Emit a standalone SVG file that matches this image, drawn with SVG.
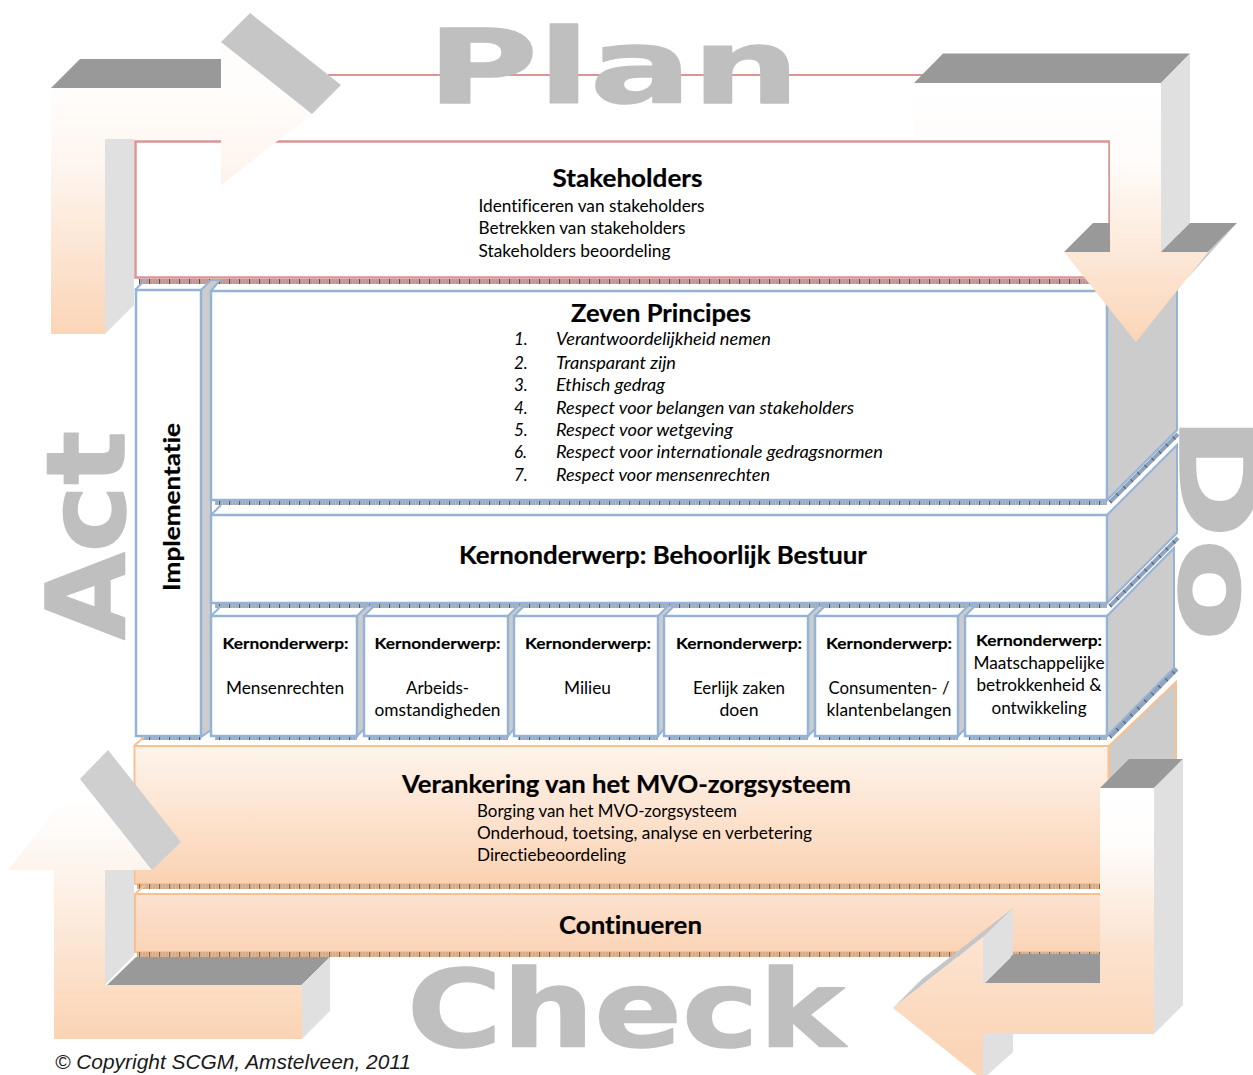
<svg xmlns="http://www.w3.org/2000/svg" width="1253" height="1075" viewBox="0 0 1253 1075">
<style>
text{font-family:"Lato","Carlito","Liberation Sans",sans-serif;fill:#000;font-variant-ligatures:none}
.big{font-family:"DejaVu Sans",Verdana,sans-serif;font-weight:700;fill:#bfbfbf;stroke:#bfbfbf;stroke-width:1.5;stroke-linejoin:round}
.h{font-size:24px;font-weight:700;text-anchor:middle;stroke:#000;stroke-width:.2}
.b{font-size:17px}
.i{font-size:17px;font-style:italic}
.k{font-size:16px;font-weight:700;text-anchor:middle;stroke:#000;stroke-width:.15}
.v{font-size:17px;text-anchor:middle}
.r{fill:#fff;stroke:#d99694;stroke-width:2.5}
.bl{fill:#fff;stroke:#95b3d7;stroke-width:2.5}
.o{stroke:#fac090;stroke-width:2}
.s{fill:#cccccc;stroke:#95b3d7;stroke-width:2;stroke-linejoin:miter}
.so{fill:#cccccc;stroke:#fac090;stroke-width:2}
.sl{fill:none;stroke:#95b3d7;stroke-width:2}
.top{fill:#999999}
.side{fill:#e0e0e0}
.hd{fill:#c6c6c6}
.dg{fill:none;stroke:#8fa3bd;stroke-width:4}
.dgt{fill:none;stroke:#4a5a70;stroke-width:4;stroke-dasharray:1 9}
</style>
<defs>
<pattern id="hb" width="10" height="5" patternUnits="userSpaceOnUse"><rect width="10" height="5" fill="#aebbcd"/><path d="M0 0l2 5M2 0l-2 5M3 0l2 5M5 0l-2 5M6 0l2 5M8 0l-2 5" stroke="#8b96a8" stroke-width=".5"/><path d="M9.500 0v5" stroke="#4a5a70" stroke-width="1"/></pattern>
<pattern id="hr" width="10" height="5" patternUnits="userSpaceOnUse"><rect width="10" height="5" fill="#cfa4a4"/><path d="M0 0l2 5M2 0l-2 5M3 0l2 5M5 0l-2 5M6 0l2 5M8 0l-2 5" stroke="#a08888" stroke-width=".5"/><path d="M9.500 0v5" stroke="#6c4646" stroke-width="1"/></pattern>
<pattern id="ho" width="10" height="5" patternUnits="userSpaceOnUse"><rect width="10" height="5" fill="#e4bc9c"/><path d="M0 0l2 5M2 0l-2 5M3 0l2 5M5 0l-2 5M6 0l2 5M8 0l-2 5" stroke="#bb9678" stroke-width=".5"/><path d="M9.500 0v5" stroke="#9a5c28" stroke-width="1"/></pattern>
<linearGradient id="g1" x1="0" y1="88" x2="0" y2="334" gradientUnits="userSpaceOnUse"><stop offset="0" stop-color="#fffdfb"/><stop offset=".3" stop-color="#fef6f0"/><stop offset="1" stop-color="#fbd5b7"/></linearGradient>
<linearGradient id="g2" x1="0" y1="83" x2="0" y2="342" gradientUnits="userSpaceOnUse"><stop offset="0" stop-color="#ffffff"/><stop offset=".3" stop-color="#fffcfa"/><stop offset="1" stop-color="#fbd5b7"/></linearGradient>
<linearGradient id="g3" x1="0" y1="788" x2="0" y2="1050" gradientUnits="userSpaceOnUse"><stop offset="0" stop-color="#ffffff"/><stop offset=".2" stop-color="#fffdfb"/><stop offset=".6" stop-color="#fce3d0"/><stop offset="1" stop-color="#fbd5b7"/></linearGradient>
<linearGradient id="g4" x1="0" y1="800" x2="0" y2="1039" gradientUnits="userSpaceOnUse"><stop offset="0" stop-color="#ffffff"/><stop offset=".3" stop-color="#fdf4ec"/><stop offset="1" stop-color="#fbd3b3"/></linearGradient>
<linearGradient id="gv" x1="0" y1="0" x2="0" y2="1"><stop offset="0" stop-color="#fef4ec"/><stop offset="1" stop-color="#fbd2b2"/></linearGradient>
<linearGradient id="gc" x1="0" y1="0" x2="0" y2="1"><stop offset="0" stop-color="#fce1cf"/><stop offset="1" stop-color="#fbd4b6"/></linearGradient>
</defs>

<g id="stakeholders">
<path d="M328 75H925" fill="none" stroke="#d99694" stroke-width="2"/>
<rect class="r" x="135.500" y="141.500" width="974" height="136"/>
<rect x="139" y="279" width="970" height="5" fill="url(#hr)"/>
<text class="h" x="627.500" y="187" textLength="150" lengthAdjust="spacingAndGlyphs">Stakeholders</text>
<text class="b" x="478.500" y="212" textLength="226" lengthAdjust="spacingAndGlyphs">Identificeren van stakeholders</text>
<text class="b" x="478.500" y="234" textLength="207" lengthAdjust="spacingAndGlyphs">Betrekken van stakeholders</text>
<text class="b" x="478.500" y="257" textLength="192" lengthAdjust="spacingAndGlyphs">Stakeholders beoordeling</text>
</g>

<g id="implementatie">
<path class="s" d="M201 290L211 280H220L211 291V730L201 737Z"/>
<path class="sl" d="M135 290L146 279"/>
<rect class="bl" x="136" y="290" width="65" height="446"/>
<rect x="141" y="737" width="60" height="3" fill="url(#hb)"/>
<text font-size="22" font-weight="700" stroke="#000" stroke-width=".2" text-anchor="middle" transform="translate(180,507) rotate(-90)" textLength="168" lengthAdjust="spacingAndGlyphs">Implementatie</text>
</g>

<g id="zeven-principes">
<path class="s" d="M1107 291L1177 220V430L1107 500Z"/>
<rect class="bl" x="211" y="291" width="896" height="209"/>
<rect x="215" y="501" width="892" height="4" fill="url(#hb)"/>
<path class="dg" d="M1110 502L1178 434"/>
<path class="dgt" d="M1110 502L1178 434"/>
<text class="h" x="661" y="322" textLength="180" lengthAdjust="spacingAndGlyphs">Zeven Principes</text>
<text class="i" x="514" y="345">1.</text><text class="i" x="556" y="345" textLength="215" lengthAdjust="spacingAndGlyphs">Verantwoordelijkheid nemen</text>
<text class="i" x="514" y="369">2.</text><text class="i" x="556" y="369" textLength="120" lengthAdjust="spacingAndGlyphs">Transparant zijn</text>
<text class="i" x="514" y="391">3.</text><text class="i" x="556" y="391" textLength="109" lengthAdjust="spacingAndGlyphs">Ethisch gedrag</text>
<text class="i" x="514" y="414">4.</text><text class="i" x="556" y="414" textLength="298" lengthAdjust="spacingAndGlyphs">Respect voor belangen van stakeholders</text>
<text class="i" x="514" y="436">5.</text><text class="i" x="556" y="436" textLength="177" lengthAdjust="spacingAndGlyphs">Respect voor wetgeving</text>
<text class="i" x="514" y="458">6.</text><text class="i" x="556" y="458" textLength="327" lengthAdjust="spacingAndGlyphs">Respect voor internationale gedragsnormen</text>
<text class="i" x="514" y="481">7.</text><text class="i" x="556" y="481" textLength="214" lengthAdjust="spacingAndGlyphs">Respect voor mensenrechten</text>
</g>

<g id="behoorlijk-bestuur">
<path class="sl" d="M211 515L221 505"/>
<path class="s" d="M1107 515L1177 445V533L1107 603Z"/>
<rect class="bl" x="211" y="515" width="896" height="88"/>
<rect x="215" y="604" width="892" height="4" fill="url(#hb)"/>
<path class="dg" d="M1110 606L1178 538"/>
<path class="dgt" d="M1110 606L1178 538"/>
<text class="h" x="663" y="564" textLength="408" lengthAdjust="spacingAndGlyphs">Kernonderwerp: Behoorlijk Bestuur</text>
</g>

<g id="kern-mensenrechten">
<path class="sl" d="M211 616L221 606"/>
<path class="s" d="M357 616L367 606H374L364 616V729L357 736Z"/>
<rect class="bl" x="211" y="616" width="146" height="120"/>
<rect x="215" y="737" width="142" height="3" fill="url(#hb)"/>
<text class="k" x="285.500" y="649" textLength="126" lengthAdjust="spacingAndGlyphs">Kernonderwerp:</text>
<text class="v" x="285" y="694" textLength="118" lengthAdjust="spacingAndGlyphs">Mensenrechten</text>
</g>
<g id="kern-arbeid">
<path class="s" d="M508 616L518 606H524L514 616V729L508 736Z"/>
<rect class="bl" x="364" y="616" width="144" height="120"/>
<rect x="368" y="737" width="140" height="3" fill="url(#hb)"/>
<text class="k" x="437.500" y="649" textLength="126" lengthAdjust="spacingAndGlyphs">Kernonderwerp:</text>
<text class="v" x="437.500" y="694" textLength="63" lengthAdjust="spacingAndGlyphs">Arbeids-</text>
<text class="v" x="437.500" y="716" textLength="126" lengthAdjust="spacingAndGlyphs">omstandigheden</text>
</g>
<g id="kern-milieu">
<path class="s" d="M658 616L668 606H674L664 616V729L658 736Z"/>
<rect class="bl" x="514" y="616" width="144" height="120"/>
<rect x="518" y="737" width="140" height="3" fill="url(#hb)"/>
<text class="k" x="588" y="649" textLength="126" lengthAdjust="spacingAndGlyphs">Kernonderwerp:</text>
<text class="v" x="587.500" y="694" textLength="47" lengthAdjust="spacingAndGlyphs">Milieu</text>
</g>
<g id="kern-eerlijk">
<path class="s" d="M808 616L818 606H825L815 616V729L808 736Z"/>
<rect class="bl" x="664" y="616" width="144" height="120"/>
<rect x="668" y="737" width="140" height="3" fill="url(#hb)"/>
<text class="k" x="739" y="649" textLength="126" lengthAdjust="spacingAndGlyphs">Kernonderwerp:</text>
<text class="v" x="739" y="694" textLength="92" lengthAdjust="spacingAndGlyphs">Eerlijk zaken</text>
<text class="v" x="739" y="716" textLength="39" lengthAdjust="spacingAndGlyphs">doen</text>
</g>
<g id="kern-consumenten">
<path class="s" d="M958 616L968 606H975L965 616V729L958 736Z"/>
<rect class="bl" x="815" y="616" width="143" height="120"/>
<rect x="819" y="737" width="139" height="3" fill="url(#hb)"/>
<text class="k" x="889" y="649" textLength="126" lengthAdjust="spacingAndGlyphs">Kernonderwerp:</text>
<text class="v" x="889" y="694" textLength="121" lengthAdjust="spacingAndGlyphs">Consumenten- /</text>
<text class="v" x="889" y="716" textLength="125" lengthAdjust="spacingAndGlyphs">klantenbelangen</text>
</g>
<g id="kern-maatschappij">
<path class="s" d="M1107 616L1174 548V668L1107 736Z"/>
<rect class="bl" x="965" y="616" width="142" height="120"/>
<rect x="969" y="737" width="138" height="3" fill="url(#hb)"/>
<path class="dg" d="M1110 737L1177 669"/>
<path class="dgt" d="M1110 737L1177 669"/>
<text class="k" x="1039" y="646" textLength="126" lengthAdjust="spacingAndGlyphs">Kernonderwerp:</text>
<text class="v" x="1039" y="669" textLength="131" lengthAdjust="spacingAndGlyphs">Maatschappelijke</text>
<text class="v" x="1039" y="691" textLength="125" lengthAdjust="spacingAndGlyphs">betrokkenheid &amp;</text>
<text class="v" x="1039" y="714" textLength="95" lengthAdjust="spacingAndGlyphs">ontwikkeling</text>
</g>

<g id="verankering">
<path class="so" d="M1109 746L1176 682V880L1109 884Z"/>
<path d="M134 746L144 737" fill="none" stroke="#fac090" stroke-width="2"/>
<rect class="o" x="134.500" y="746" width="974" height="138" fill="url(#gv)"/>
<rect x="137" y="884" width="965" height="5" fill="url(#ho)"/>
<text class="h" x="626.500" y="793" textLength="449" lengthAdjust="spacingAndGlyphs">Verankering van het MVO-zorgsysteem</text>
<text class="b" x="477" y="817" textLength="260" lengthAdjust="spacingAndGlyphs">Borging van het MVO-zorgsysteem</text>
<text class="b" x="477" y="839" textLength="335" lengthAdjust="spacingAndGlyphs">Onderhoud, toetsing, analyse en verbetering</text>
<text class="b" x="477" y="861" textLength="149" lengthAdjust="spacingAndGlyphs">Directiebeoordeling</text>
</g>

<g id="continueren">
<path d="M135 894L145 885" fill="none" stroke="#fac090" stroke-width="2"/>
<rect class="o" x="135" y="894" width="970" height="58" fill="url(#gc)"/>
<rect x="137" y="952" width="965" height="5" fill="url(#ho)"/>
<text class="h" x="630.500" y="934" textLength="143" lengthAdjust="spacingAndGlyphs">Continueren</text>
</g>

<g id="labels">
<text class="big" font-size="103" transform="translate(427,103) scale(1.47,1)">Plan</text>
<text class="big" font-size="107" transform="translate(407,1046) scale(1.21,1)">Check</text>
<text class="big" font-size="108" transform="translate(124,640) rotate(-90) scale(1.05,1)">Act</text>
<text class="big" font-size="108" transform="translate(1180,415) rotate(90) scale(1.38,1)">Do</text>
</g>

<g id="connectors">
<g id="arrow-plan">
<path class="top" d="M51 88L80 59H221V88Z"/>
<path class="side" d="M105 139H134V305L105 334Z"/>
<path fill="url(#g1)" d="M51 88H221V42L312 114L221 185V139H105V334H51Z"/>
<path class="hd" d="M221 42L250 13L341 85L312 114Z"/>
</g>
<g id="arrow-do">
<path class="top" d="M914 83L943 53.500H1190L1161 83Z"/>
<path class="side" d="M1161 83L1190 53.500V223L1161 252Z"/>
<path class="top" d="M1064 252L1093 223H1110V252Z"/>
<path class="top" d="M1161 252L1190 223H1237L1208 252Z"/>
<path class="hd" d="M1208 252L1237 223L1147 323L1136 342Z"/>
<path fill="url(#g2)" d="M914 83H1161V252H1208L1136 342L1064 252H1110V137H914Z"/>
</g>
<g id="arrow-check">
<path class="top" d="M1100 788L1129 759H1183L1154 788Z"/>
<path class="side" d="M1154 788L1183 759V1005L1154 1034Z"/>
<path class="side" d="M983 937L1013 908V954L985 983H983Z"/>
<path class="side" d="M983 1034H1013V1052L983 1079Z"/>
<path class="hd" d="M893 1008L922 979L1013 908L983 937Z"/>
<path class="top" d="M985 983L1014 954H1100V983Z"/>
<path fill="url(#g3)" d="M1100 788H1154V1034H983V1080L893 1008L983 937V983H1100Z"/>
</g>
<g id="arrow-act">
<path class="side" d="M105 870H134V955L105 985Z"/>
<path class="top" d="M107 985L136 957H330L301.500 985Z"/>
<path class="side" d="M302 985L330 957V1011L302 1039Z"/>
<path fill="url(#g4)" d="M54 1039V870H8L80 779L152 870H105V985H302V1039Z"/>
<path fill="#cfcfcf" d="M80 779L108 750L181 842L152 870Z"/>
</g>
</g>

<text id="copyright" x="55" y="1069" font-size="20" font-style="italic" style="font-family:'Liberation Sans',Arial,sans-serif;fill:#1a1a1a" textLength="356" lengthAdjust="spacingAndGlyphs">© Copyright SCGM, Amstelveen, 2011</text>
</svg>
